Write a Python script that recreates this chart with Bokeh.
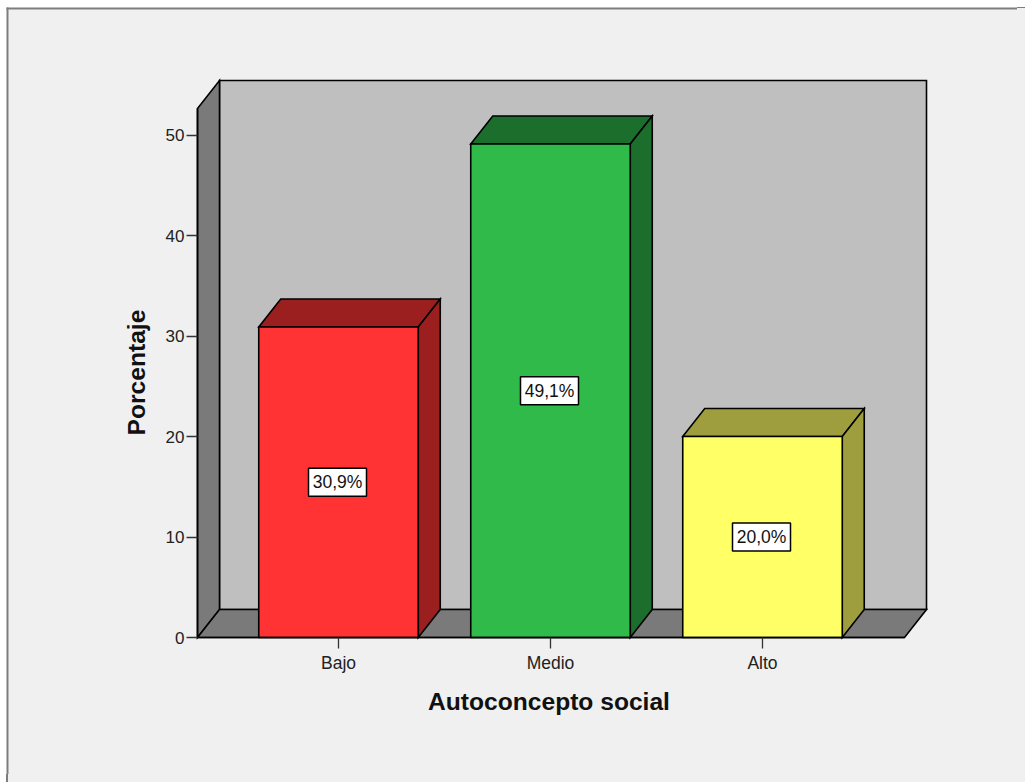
from math import pi
from bokeh.plotting import figure
from bokeh.models import ColumnDataSource, LinearAxis, FixedTicker, Label, BoxAnnotation
from bokeh.core.properties import value
from bokeh.embed import file_html
from bokeh.resources import INLINE

categories = ["Bajo", "Medio", "Alto"]
values = [30.9, 49.1, 20.0]
value_labels = ["30,9%", "49,1%", "20,0%"]
front_colors = ["#ff3333", "#2fba4a", "#ffff66"]
dark_colors = ["#9c1f1f", "#1b6e2c", "#9e9e3f"]
y_ticks = [0, 10, 20, 30, 40, 50]
x_title = "Autoconcepto social"
y_title = "Porcentaje"

PX_X = 212.0      # pixels per category
PX_Y = 10.05      # pixels per percent
DX = 22 / PX_X    # depth of the 3D box
DY = 28 / PX_Y
BAR_W = 159.5 / PX_X
X_LEFT = (197 - 338) / PX_X
X_RIGHT = (904 - 338) / PX_X
Y_TOP = (637 - 108) / PX_Y

p = figure(
    width=1017, height=774, output_backend="svg", toolbar_location=None,
    x_range=(-338 / PX_X, (1017 - 338) / PX_X), y_range=((637 - 774) / PX_Y, 637 / PX_Y),
    frame_width=1017, frame_height=774,
    min_border_left=0, min_border_right=0, min_border_top=0, min_border_bottom=0,
    x_axis_type=None, y_axis_type=None,
    background_fill_color="#ffffff", border_fill_color="#ffffff",
    outline_line_color=None,
)
p.grid.visible = False
p.styles = {"box-shadow": "8px 8px 0 0 #f0f0f0, 8px 7px 0 0 #7d7d7d, 6px 8px 0 0 #7d7d7d"}

def panel(l, r, t, b, color):
    p.add_layout(BoxAnnotation(left=l, right=r, top=t, bottom=b,
                               left_units="canvas", right_units="canvas",
                               top_units="canvas", bottom_units="canvas",
                               fill_color=color, fill_alpha=1, line_color=None,
                               level="underlay", editable=False))

panel(8, 1017, 9, 774, "#f0f0f0")
panel(6, 1017, 7, 9, "#7d7d7d")
panel(6, 8, 7, 774, "#7d7d7d")

LINE = dict(line_color="#000000", line_width=1.6, line_join="miter")

# room: back wall, left wall, floor
p.patch([X_LEFT + DX, X_RIGHT + DX, X_RIGHT + DX, X_LEFT + DX], [DY, DY, Y_TOP + DY, Y_TOP + DY],
        fill_color="#bfbfbf", **LINE)
p.patch([X_LEFT, X_LEFT + DX, X_LEFT + DX, X_LEFT], [0, DY, Y_TOP + DY, Y_TOP],
        fill_color="#7a7a7a", **LINE)
p.patch([X_LEFT, X_RIGHT, X_RIGHT + DX, X_LEFT + DX], [0, 0, DY, DY],
        fill_color="#7a7a7a", **LINE)

# bars
half = BAR_W / 2
for i, v in enumerate(values):
    l, r = i - half, i + half
    p.patch([l, r, r + DX, l + DX], [v, v, v + DY, v + DY], fill_color=dark_colors[i], **LINE)
    p.patch([r, r + DX, r + DX, r], [0, DY, v + DY, v], fill_color=dark_colors[i], **LINE)
    p.patch([l, r, r, l], [0, 0, v, v], fill_color=front_colors[i], **LINE)

# value labels
src = ColumnDataSource(dict(x=[i - 1 / PX_X for i in range(len(values))],
                            y=[v / 2 for v in values],
                            t=value_labels))
p.rect("x", "y", width=58, height=28, width_units="screen", height_units="screen", source=src,
       fill_color="#ffffff", line_color="#000000", line_width=1.5)
p.text("x", "y", text="t", source=src, text_align="center", text_baseline="middle",
       text_font=value("Liberation Sans"), text_font_size="17.5px", text_color="#111111")

# axes
yax = LinearAxis(
    fixed_location=X_LEFT, bounds=(0, Y_TOP), ticker=FixedTicker(ticks=y_ticks),
    major_label_text_font="Liberation Sans", major_label_text_font_size="17px",
    major_label_text_color="#222222", major_label_standoff=2,
    major_tick_in=0, major_tick_out=11, minor_tick_in=0, minor_tick_out=0,
    axis_line_color="#000000", axis_line_width=1.6,
    major_tick_line_color="#333333", major_tick_line_width=1.3,
)
p.add_layout(yax, "left")

xax = LinearAxis(
    fixed_location=0, bounds=(X_LEFT, X_RIGHT), ticker=FixedTicker(ticks=[0, 1, 2]),
    major_label_overrides=dict(enumerate(categories)),
    major_label_text_font="Liberation Sans", major_label_text_font_size="17.5px",
    major_label_text_color="#222222", major_label_standoff=4,
    major_tick_in=0, major_tick_out=11, minor_tick_in=0, minor_tick_out=0,
    axis_line_color="#000000", axis_line_width=1.6,
    major_tick_line_color="#333333", major_tick_line_width=1.3,
)
p.add_layout(xax, "below")

TITLE = dict(text_font="Liberation Sans", text_font_style="bold", text_font_size="24.6px",
             text_color="#111111", text_align="center", text_baseline="middle")
p.add_layout(Label(x=(548.5 - 338) / PX_X, y=(637 - 701) / PX_Y, text=x_title, **TITLE))
p.add_layout(Label(x=(136 - 338) / PX_X, y=(637 - 372) / PX_Y, text=y_title, angle=pi / 2, **TITLE))

open("out.html", "w").write(file_html(p, INLINE))
